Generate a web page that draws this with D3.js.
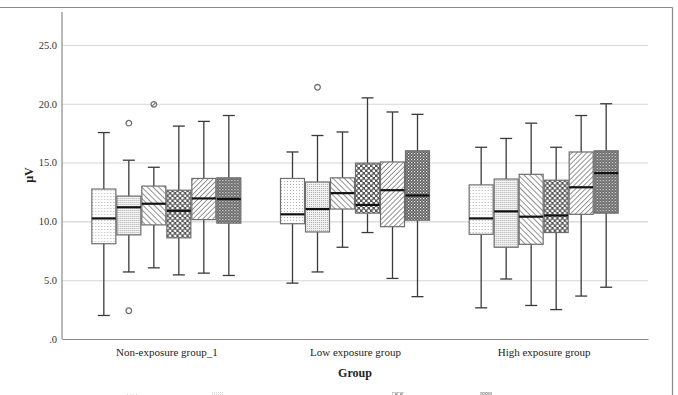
<!DOCTYPE html>
<html>
<head>
<meta charset="utf-8">
<script src="https://cdn.jsdelivr.net/npm/d3@7"></script>
<style>
  html,body{margin:0;padding:0;background:#fff;}
  svg{display:block;font-family:"Liberation Serif","DejaVu Serif",serif;}
</style>
</head>
<body>
<div id="chart"></div>
<script>
(function(){
  const groups=["Non-exposure group_1","Low exposure group","High exposure group"];
  const series=["m1","m2","m3","m4","m5","m6"];
  const yTicks=[0,5,10,15,20,25];

  // per group, per series (µV)
  const whiskerLow=[[2.0,5.7,6.05,5.45,5.6,5.4],[4.75,5.7,7.8,9.05,5.15,3.6],[2.65,5.1,2.85,2.5,3.65,4.4]];
  const q1=[[8.1,8.85,9.7,8.6,10.15,9.85],[9.8,9.1,11.05,10.7,9.55,10.1],[8.9,7.8,8.05,9.05,10.6,10.7]];
  const median=[[10.25,11.2,11.5,10.9,11.95,11.9],[10.6,11.05,12.4,11.4,12.65,12.2],[10.25,10.85,10.4,10.5,12.9,14.1]];
  const q3=[[12.75,12.15,13.0,12.65,13.65,13.7],[13.65,13.35,13.7,14.95,15.05,16.0],[13.1,13.6,14.0,13.5,15.9,16.0]];
  const whiskerHigh=[[17.55,15.2,14.6,18.1,18.5,19.0],[15.9,17.3,17.6,20.5,19.3,19.1],[16.3,17.05,18.35,16.3,19.0,20.0]];
  const outliers=[
    {g:0,s:1,v:18.35},{g:0,s:1,v:2.4},{g:0,s:2,v:19.95,extra:true},
    {g:1,s:1,v:21.4}
  ];

  const W=678,H=395;
  const m={top:12,right:30,bottom:56,left:62};
  const svg=d3.select("#chart").append("svg").attr("width",W).attr("height",H);
  const serif="'Liberation Serif','DejaVu Serif',serif";

  // outer frame
  svg.append("line").attr("x1",0).attr("x2",672.5).attr("y1",7.5).attr("y2",7.5)
    .attr("stroke","#8a8a8a").attr("stroke-width",1.2);
  svg.append("line").attr("x1",672.5).attr("x2",672.5).attr("y1",7.5).attr("y2",H)
    .attr("stroke","#8a8a8a").attr("stroke-width",1.2);

  // patterns
  const defs=svg.append("defs");
  function pat(id,size){
    return defs.append("pattern").attr("id",id).attr("patternUnits","userSpaceOnUse")
      .attr("width",size).attr("height",size);
  }
  let p=pat("p0",3);
  p.append("rect").attr("width",3).attr("height",3).attr("fill","#fff");
  p.append("rect").attr("x",1).attr("y",1).attr("width",0.9).attr("height",0.9).attr("fill","#a0a0a0");

  p=pat("p1",2);
  p.append("rect").attr("width",2).attr("height",2).attr("fill","#f2f2f2");
  p.append("rect").attr("width",1).attr("height",1).attr("fill","#b0b0b0");

  p=pat("p2",4).attr("patternTransform","rotate(-45)");
  p.append("rect").attr("width",4).attr("height",4).attr("fill","#fff");
  p.append("line").attr("x1",0).attr("x2",0).attr("y1",0).attr("y2",4).attr("stroke","#777").attr("stroke-width",1.6);

  p=pat("p3",5);
  p.append("rect").attr("width",5).attr("height",5).attr("fill","#555");
  p.append("circle").attr("cx",1.25).attr("cy",1.25).attr("r",1.35).attr("fill","#fff");
  p.append("circle").attr("cx",3.75).attr("cy",3.75).attr("r",1.35).attr("fill","#fff");

  p=pat("p4",3.5).attr("patternTransform","rotate(45)");
  p.append("rect").attr("width",3.5).attr("height",3.5).attr("fill","#fff");
  p.append("line").attr("x1",0).attr("x2",0).attr("y1",0).attr("y2",3.5).attr("stroke","#6a6a6a").attr("stroke-width",1.4);

  p=pat("p5",3);
  p.append("rect").attr("width",3).attr("height",3).attr("fill","#5c5c5c");
  p.append("rect").attr("x",0).attr("y",0).attr("width",1.2).attr("height",1.2).attr("fill","#f0f0f0");
  p.append("rect").attr("x",1.5).attr("y",1.5).attr("width",1.1).attr("height",1.1).attr("fill","#d8d8d8");

  const w=W-m.left-m.right, ih=H-m.top-m.bottom;
  const g=svg.append("g").attr("transform",`translate(${m.left},${m.top})`);

  const y=d3.scaleLinear().domain([0,27.8]).range([ih,0]);
  const x=d3.scalePoint().domain(groups).range([0,w]).padding(0.553);
  const xs=d3.scaleBand().domain(series).range([-75,75]).padding(0);

  // grid + y axis
  g.append("g")
    .call(d3.axisLeft(y).tickValues(yTicks).tickSize(-w).tickPadding(5)
      .tickFormat(v=>v===0?".0":d3.format(".1f")(v)))
    .attr("font-family",serif)
    .call(s=>s.selectAll(".tick line").attr("stroke","#d6d6d6").attr("stroke-width",1.1))
    .call(s=>s.selectAll("text").attr("font-size",10.5).attr("fill","#333").style("font-family",serif))
    .call(s=>s.select(".domain").remove());
  g.append("line").attr("x1",0).attr("x2",0).attr("y1",0).attr("y2",ih)
    .attr("stroke","#8a8a8a").attr("stroke-width",1.2);

  // x axis
  g.append("g").attr("transform",`translate(0,${ih})`)
    .call(d3.axisBottom(x).tickSize(0).tickPadding(9))
    .attr("font-family",serif)
    .call(s=>s.selectAll("text").attr("font-size",11).attr("fill","#222").style("font-family",serif))
    .call(s=>s.select(".domain").attr("stroke","#8a8a8a").attr("stroke-width",1.2));

  // boxes
  const boxes=[];
  groups.forEach((gr,i)=>series.forEach((se,j)=>boxes.push({
    gr,se,j,lo:whiskerLow[i][j],q1:q1[i][j],md:median[i][j],q3:q3[i][j],hi:whiskerHigh[i][j]
  })));
  const bw=xs.bandwidth();
  const box=g.selectAll(".box").data(boxes).join("g")
    .attr("transform",d=>`translate(${x(d.gr)+xs(d.se)},0)`);

  box.append("line").attr("x1",bw/2).attr("x2",bw/2)
    .attr("y1",d=>y(d.hi)).attr("y2",d=>y(d.lo))
    .attr("stroke","#3a3a3a").attr("stroke-width",1.3);
  box.append("line").attr("x1",bw/2-6).attr("x2",bw/2+6)
    .attr("y1",d=>y(d.hi)).attr("y2",d=>y(d.hi))
    .attr("stroke","#3a3a3a").attr("stroke-width",1.3);
  box.append("line").attr("x1",bw/2-6).attr("x2",bw/2+6)
    .attr("y1",d=>y(d.lo)).attr("y2",d=>y(d.lo))
    .attr("stroke","#3a3a3a").attr("stroke-width",1.3);
  box.append("rect").attr("x",0.5).attr("width",bw-1)
    .attr("y",d=>y(d.q3)).attr("height",d=>y(d.q1)-y(d.q3))
    .attr("fill",d=>`url(#p${d.j})`)
    .attr("stroke","#6e6e6e").attr("stroke-width",1.2);
  box.append("line").attr("x1",0.5).attr("x2",bw-0.5)
    .attr("y1",d=>y(d.md)).attr("y2",d=>y(d.md))
    .attr("stroke","#111").attr("stroke-width",2.2);

  // outliers
  const out=g.selectAll(".out").data(outliers).join("g")
    .attr("transform",d=>`translate(${x(groups[d.g])+xs(series[d.s])+bw/2},${y(d.v)})`);
  out.append("circle").attr("r",2.8).attr("fill","#fff").attr("stroke","#707070").attr("stroke-width",1.3);
  out.filter(d=>d.extra).append("line").attr("x1",-2).attr("y1",2).attr("x2",2).attr("y2",-2)
    .attr("stroke","#707070").attr("stroke-width",1.2);

  // axis titles
  svg.append("text").attr("x",m.left+w/2).attr("y",377).attr("text-anchor","middle")
    .attr("font-size",12).attr("font-weight","bold").attr("fill","#222").text("Group");
  svg.append("text").attr("transform",`translate(33,175) rotate(-90)`).attr("text-anchor","middle")
    .attr("font-size",12).attr("font-weight","bold").attr("fill","#222").text("µV");

  // legend (cut off at the bottom edge)
  const legendX=[126,212,392,480];
  svg.selectAll(".leg").data(legendX).join("rect")
    .attr("x",d=>d).attr("y",392).attr("width",12).attr("height",10)
    .attr("fill",(d,i)=>`url(#p${[0,1,3,5][i]})`).attr("opacity",0.5);
})();
</script>
</body>
</html>
